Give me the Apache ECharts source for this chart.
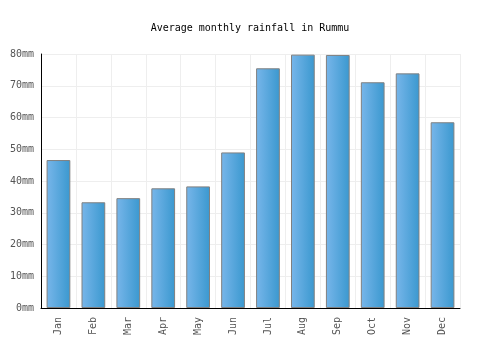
<!DOCTYPE html>
<html>
<head>
<meta charset="utf-8">
<script src="https://cdn.jsdelivr.net/npm/echarts@6/dist/echarts.min.js"></script>
<style>
	html, body { margin: 0; padding: 0; background: #fff; }
	#chart { width: 500px; height: 350px; }
</style>
</head>
<body>
<div id="chart"></div>
<script>
const months = ["Jan", "Feb", "Mar", "Apr", "May", "Jun", "Jul", "Aug", "Sep", "Oct", "Nov", "Dec"];
const rainfall = [46.6, 33.3, 34.6, 37.7, 38.3, 49.0, 75.5, 79.8, 79.7, 71.1, 73.9, 58.5];
const titleText = "Average monthly rainfall in Rummu";

const font = "DejaVu Sans Mono";

let chart = echarts.init(document.getElementById("chart"));
let option = {
	animation: false,
	title: {
		text: titleText,
		left: "center",
		top: 18,
		textStyle: {
			fontFamily: font,
			fontSize: 10,
			fontWeight: "normal",
			color: "#000"
		}
	},
	grid: {
		left: 41,
		right: 40,
		top: 54,
		bottom: 42
	},
	xAxis: {
		type: "category",
		data: months,
		axisLine: { lineStyle: { color: "#000", width: 1 } },
		axisTick: { show: false },
		splitLine: { show: true, lineStyle: { color: "#eeeeee" } },
		axisLabel: {
			rotate: 90,
			fontFamily: font,
			fontSize: 10,
			color: "#555",
			margin: 9
		}
	},
	yAxis: {
		type: "value",
		min: 0,
		max: 80,
		interval: 10,
		axisLine: { show: true, lineStyle: { color: "#000", width: 1 } },
		axisTick: { show: false },
		splitLine: { lineStyle: { color: "#eeeeee" } },
		axisLabel: {
			formatter: "{value}mm",
			fontFamily: font,
			fontSize: 10,
			color: "#555",
			margin: 7
		}
	},
	series: [
		{
			type: "bar",
			data: rainfall,
			barWidth: "68%",
			itemStyle: {
				color: new echarts.graphic.LinearGradient(0, 0, 1, 0, [
					{ offset: 0, color: "#78b6ea" },
					{ offset: 1, color: "#3a98cf" }
				]),
				borderColor: "#808080",
				borderWidth: 1
			}
		}
	]
};
chart.setOption(option);
</script>
</body>
</html>
